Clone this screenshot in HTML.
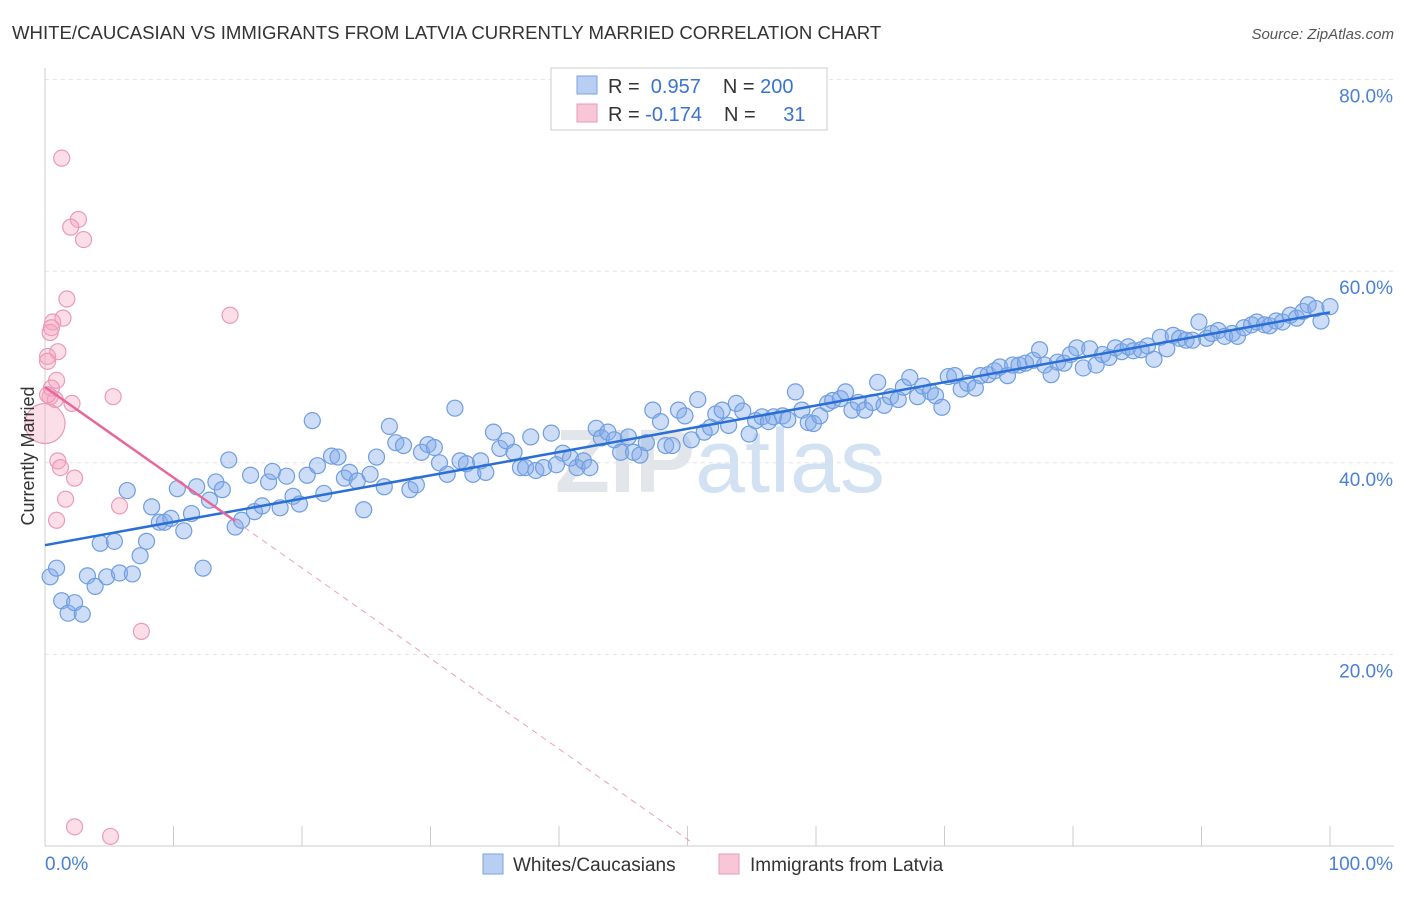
<!DOCTYPE html>
<html><head><meta charset="utf-8"><style>
body{margin:0;background:#fff;font-family:"Liberation Sans",sans-serif}
</style></head><body>
<svg id="chart" width="1406" height="892" xmlns="http://www.w3.org/2000/svg" font-family="Liberation Sans, sans-serif">
<text x="12" y="39" font-size="18.6" fill="#333">WHITE/CAUCASIAN VS IMMIGRANTS FROM LATVIA CURRENTLY MARRIED CORRELATION CHART</text>
<text x="1394" y="39" font-size="15" fill="#555" font-style="italic" text-anchor="end">Source: ZipAtlas.com</text>
<g id="grid"></g>
<text x="720" y="492" font-size="90" text-anchor="middle" fill="#e2e6ea" font-weight="bold">ZIP<tspan fill="#d3e2f3" font-weight="normal">atlas</tspan></text>
<g id="marks"></g>
<text transform="translate(34,456) rotate(-90)" font-size="18" fill="#333" text-anchor="middle">Currently Married</text>
<g>
<rect x="551" y="68" width="276" height="62" fill="#fff" stroke="#ccc"/>
<rect x="577" y="76" width="20" height="18" fill="#b8cff3" stroke="#7aa3e0"/>
<rect x="577" y="104" width="20" height="18" fill="#f8c6d6" stroke="#e89ab4"/>
<text x="608" y="93" font-size="20" fill="#333">R = <tspan fill="#3a73cf">&#160;0.957</tspan><tspan dx="22">N = </tspan><tspan fill="#3a73cf">200</tspan></text>
<text x="608" y="121" font-size="20" fill="#333">R = <tspan fill="#3a73cf">-0.174</tspan><tspan dx="22">N = </tspan><tspan fill="#3a73cf" dx="22">31</tspan></text>
</g>
<g>
<rect x="483" y="854" width="20" height="20" fill="#b8cff3" stroke="#7aa3e0"/>
<text x="513" y="871" font-size="19" fill="#333">Whites/Caucasians</text>
<rect x="719" y="854" width="20" height="20" fill="#f8c6d6" stroke="#e89ab4"/>
<text x="750" y="871" font-size="19" fill="#333">Immigrants from Latvia</text>
</g>
</svg>
<script>
const yTicks=[20,40,60,80];
const xTickLabels=["0.0%","100.0%"];
const blueX=[0.4,0.9,1.3,1.8,2.3,2.9,3.3,3.9,4.3,4.8,5.4,5.8,6.4,6.8,7.4,7.9,8.3,8.9,9.3,9.8,10.3,10.8,11.4,11.8,12.3,12.8,13.3,13.8,14.3,14.8,15.3,16.0,16.3,16.9,17.4,17.7,18.3,18.8,19.3,19.8,20.4,20.8,21.2,21.7,22.3,22.8,23.3,23.7,24.3,24.8,25.3,25.8,26.4,26.8,27.3,27.9,28.4,28.9,29.3,29.8,30.3,30.7,31.3,31.9,32.3,32.8,33.3,33.9,34.3,34.9,35.4,35.9,36.5,37.0,37.4,37.8,38.2,38.8,39.4,39.8,40.3,40.9,41.4,41.9,42.4,42.9,43.3,43.8,44.3,44.8,45.4,45.8,46.3,46.8,47.3,47.9,48.3,48.8,49.3,49.8,50.3,50.8,51.3,51.8,52.2,52.7,53.2,53.8,54.3,54.8,55.3,55.8,56.3,56.7,57.4,57.8,58.4,58.9,59.4,59.8,60.3,60.9,61.3,61.9,62.3,62.8,63.3,63.8,64.4,64.8,65.3,65.8,66.4,66.8,67.3,67.9,68.3,68.9,69.3,69.8,70.3,70.8,71.3,71.8,72.4,72.8,73.4,73.9,74.3,74.9,75.3,75.8,76.3,76.9,77.4,77.8,78.3,78.8,79.3,79.8,80.3,80.8,81.3,81.8,82.3,82.8,83.3,83.8,84.3,84.7,85.3,85.8,86.3,86.8,87.3,87.8,88.3,88.8,89.3,89.8,90.4,90.8,91.3,91.8,92.4,92.8,93.3,93.9,94.3,94.9,95.3,95.8,96.3,96.9,97.4,97.9,98.3,98.9,99.3,100];
const blueY=[28.1,29.0,25.6,24.3,25.4,24.2,28.2,27.1,31.6,28.1,31.8,28.5,37.1,28.4,30.3,31.8,35.4,33.8,33.8,34.2,37.3,32.9,34.7,37.5,29.0,36.1,38.0,37.2,40.3,33.3,34.0,38.7,34.9,35.5,38.0,39.1,35.3,38.6,36.5,35.7,38.7,44.4,39.7,36.8,40.7,40.6,38.4,39.0,38.1,35.1,38.8,40.6,37.5,43.8,42.1,41.8,37.2,37.7,41.1,41.9,41.6,40.0,38.8,45.7,40.2,39.9,38.8,40.2,39.0,43.2,41.5,42.3,41.1,39.5,39.5,42.7,39.2,39.5,43.1,39.8,41.0,40.5,39.5,40.2,39.5,43.6,42.6,43.2,42.4,41.1,42.7,41.1,40.8,42.1,45.5,44.3,41.8,41.8,45.5,44.9,42.4,46.6,43.2,43.7,45.1,45.5,43.9,46.2,45.4,43.0,44.4,44.8,44.3,44.8,44.9,44.5,47.4,45.5,44.2,44.1,44.9,46.2,46.5,46.7,47.4,45.5,46.3,45.5,46.3,48.4,46.0,46.9,46.6,47.9,48.9,46.9,48.0,47.4,47.0,45.8,49.0,49.1,47.7,48.3,47.8,49.1,49.2,49.6,50.0,49.1,50.2,50.2,50.4,50.7,51.8,50.2,49.2,50.5,50.4,51.3,52.0,49.9,51.9,50.2,51.3,51.0,52.0,51.6,52.1,51.7,51.8,52.2,50.8,53.1,51.9,53.3,53.0,52.8,52.8,54.7,53.0,53.5,53.8,53.2,53.5,53.2,54.1,54.4,54.7,54.4,54.3,54.8,54.7,55.4,55.1,55.8,56.5,56.1,54.8,56.3];
const pinkX=[1.3,2.6,2.0,3.0,1.7,1.4,14.4,0.6,0.4,1.0,0.2,0.2,0.9,0.5,0.4,0.8,5.3,2.1,1.0,1.2,2.3,1.6,5.8,0.9,7.5,2.3,5.1,0.2,0.5];
const pinkY=[71.8,65.4,64.6,63.3,57.1,55.1,55.4,54.7,53.6,51.6,51.1,50.6,48.6,47.8,46.9,46.6,46.9,46.2,40.2,39.5,38.4,36.2,35.5,34.0,22.4,2.0,1.0,47.1,54.1];
const bigPink=[0,44.1];
const blueFit=[31.4,55.7];
const pinkFit=[47.9,0.5];
const pinkFitEndX=50.2;
const X=v=>45+v*12.85, Y=v=>846-v*9.58;
const NS="http://www.w3.org/2000/svg";
function mk(t,a,p){const e=document.createElementNS(NS,t);for(const k in a)e.setAttribute(k,a[k]);p.appendChild(e);return e;}
const grid=document.getElementById('grid'),marks=document.getElementById('marks');
for(const t of yTicks){
 const l=mk('line',{x1:45,x2:1394,y1:Y(t),y2:Y(t),stroke:'#e3e3e3','stroke-dasharray':'4,4'},grid);
 
 
 const tx=mk('text',{x:1393,y:Y(t)+23,'font-size':19,fill:'#4a80d6','text-anchor':'end'},grid);
 tx.textContent=t.toFixed(1)+'%';
 
 
}
const ax=mk('line',{x1:45,x2:45,y1:68,y2:846,stroke:'#ccc'},grid);


const bx=mk('line',{x1:45,x2:1394,y1:846,y2:846,stroke:'#ccc'},grid);


for(let i=0;i<=10;i++){
 const t=mk('line',{x1:X(i*10),x2:X(i*10),y1:826,y2:846,stroke:'#ccc'},grid);
 
 
}
[[0,'start',45],[1,'end',1393]].forEach(([i,a,x])=>{
 const t=mk('text',{x:x,y:870,'font-size':19,fill:'#4a80d6','text-anchor':a},grid);
 t.textContent=xTickLabels[i];
 
 
});
blueX.forEach((x,i)=>{
 const c=mk('circle',{cx:X(x),cy:Y(blueY[i]),r:8,fill:'rgba(130,170,235,0.4)',stroke:'#6f9ee0','stroke-width':1.2},marks);
 
 
});
pinkX.forEach((x,i)=>{
 const c=mk('circle',{cx:X(x),cy:Y(pinkY[i]),r:8,fill:'rgba(245,160,190,0.35)',stroke:'#eb9ab6','stroke-width':1.2},marks);
 
 
});
const bp=mk('circle',{cx:X(bigPink[0]),cy:Y(bigPink[1]),r:20,fill:'rgba(245,160,190,0.35)',stroke:'#eb9ab6','stroke-width':1.2},marks);


const bl=mk('line',{x1:X(0),y1:Y(blueFit[0]),x2:X(100),y2:Y(blueFit[1]),stroke:'#2a6fd6','stroke-width':2.5},marks);


const py=x=>pinkFit[0]+(pinkFit[1]-pinkFit[0])*x/pinkFitEndX;
const pl=mk('line',{x1:X(0),y1:Y(pinkFit[0]),x2:X(14.8),y2:Y(py(14.8)),stroke:'#e8679a','stroke-width':2.5},marks);


const pd=mk('line',{x1:X(14.8),y1:Y(py(14.8)),x2:X(pinkFitEndX),y2:Y(pinkFit[1]),stroke:'#e8a0b8','stroke-width':1,'stroke-dasharray':'6,5'},marks);


</script>
</body></html>
